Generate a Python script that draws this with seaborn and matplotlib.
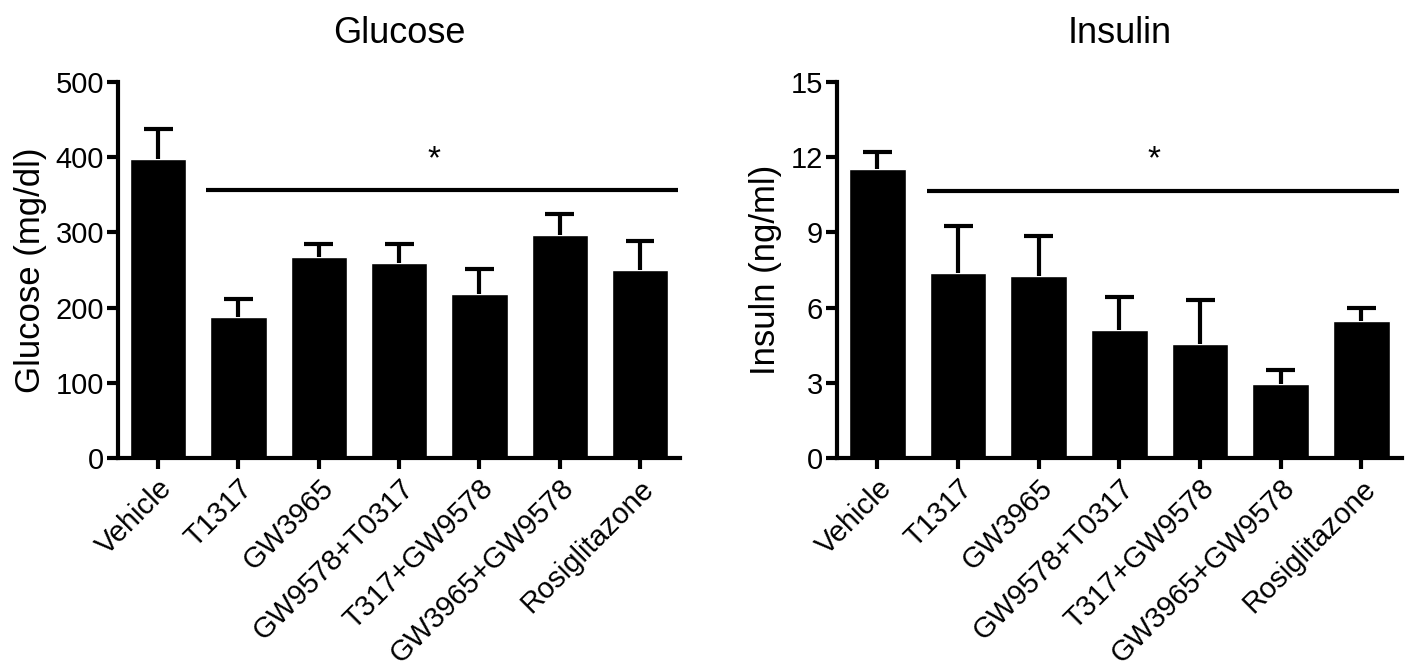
import numpy as np
import pandas as pd
import matplotlib
matplotlib.use("Agg")
import matplotlib.pyplot as plt
import seaborn as sns

# Datos
groups = ["Vehicle", "T1317", "GW3965", "GW9578+T0317", "T317+GW9578",
          "GW3965+GW9578", "Rosiglitazone"]
glucose_mean = [397, 187, 267, 259, 218, 297, 250]
glucose_sem = [40, 24, 17, 26, 33, 27, 38]
insulin_mean = [11.53, 7.37, 7.25, 5.13, 4.55, 2.97, 5.45]
insulin_sem = [0.66, 1.90, 1.61, 1.29, 1.75, 0.56, 0.53]

sns.set_theme(style="ticks")
plt.rcParams["font.family"] = ["Liberation Sans", "DejaVu Sans"]
plt.rcParams["text.color"] = "black"
plt.rcParams["axes.labelcolor"] = "black"
plt.rcParams["xtick.color"] = "black"
plt.rcParams["ytick.color"] = "black"

fig = plt.figure(figsize=(14.17, 6.70), dpi=100)
ax1 = fig.add_axes([0.0833, 0.316, 0.3967, 0.562])
ax2 = fig.add_axes([0.5907, 0.316, 0.3985, 0.562])

panels = [
    (ax1, glucose_mean, glucose_sem, "Glucose", "Glucose (mg/dl)", 500, 100, 356, 0.6, 396),
    (ax2, insulin_mean, insulin_sem, "Insulin", "Insuln (ng/ml)", 15, 3, 10.64, 0.62, 11.9),
]

for ax, means, sems, title, ylabel, ymax, step, sig_y, sig_x0, star_y in panels:
    df = pd.DataFrame({"group": groups, "value": means, "sem": sems})
    sns.barplot(data=df, x="group", y="value", color="black", width=0.7,
                saturation=1, ax=ax, errorbar=None)
    # barra de error solo hacia arriba
    xs = np.arange(len(groups))
    tops = df["value"] + df["sem"]
    ax.vlines(xs, df["value"], tops, color="black", lw=3)
    ax.hlines(tops, xs - 0.18, xs + 0.18, color="black", lw=3)
    ax.plot([sig_x0, 6.47], [sig_y, sig_y], color="black", lw=3, solid_capstyle="butt")
    ax.text(3.43, star_y, "*", ha="center", va="center", fontsize=24)

    ax.set_xlim(-0.5, 6.5)
    ax.set_ylim(0, ymax)
    ax.set_yticks(np.arange(0, ymax + step / 2, step))
    ax.set_title(title, fontsize=26, pad=28)
    ax.set_ylabel(ylabel, fontsize=25, labelpad=6)
    ax.set_xlabel("")
    ax.set_xticks(range(len(groups)))
    ax.set_xticklabels(groups, rotation=45, ha="right", rotation_mode="anchor",
                       fontsize=21)
    ax.tick_params(axis="both", width=3, length=8, labelsize=21, color="black")
    ax.tick_params(axis="x", labelsize=21)
    ax.tick_params(axis="y", pad=2)
    for side in ["left", "bottom"]:
        ax.spines[side].set_linewidth(3)
        ax.spines[side].set_color("black")
    sns.despine(ax=ax)

fig.savefig("out.png", dpi=100)
